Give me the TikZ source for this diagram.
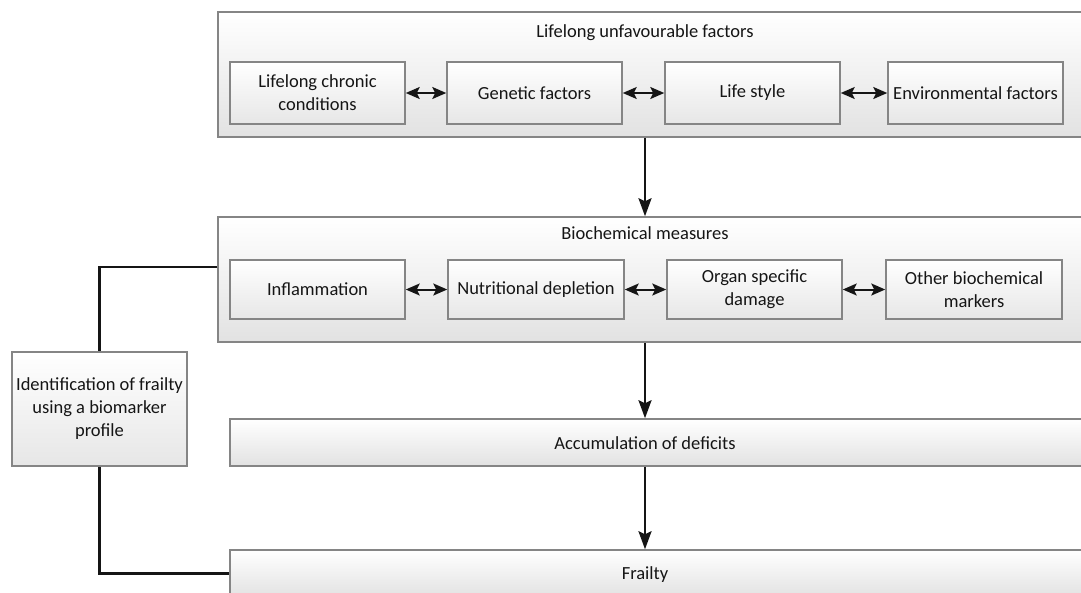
\documentclass[tikz,border=0pt]{standalone}
\usepackage{fontspec}
\setmainfont{Carlito}
\usetikzlibrary{arrows.meta}
\definecolor{edge}{HTML}{858585}
\definecolor{ink}{HTML}{151515}
\definecolor{shadelow}{HTML}{E2E2E2}
\tikzset{
  outerbox/.style={draw=edge, line width=1.5pt, top color=white, bottom color=shadelow, inner sep=0pt},
  innerbox/.style={draw=edge, line width=1.5pt, top color=white, bottom color=shadelow!85, align=center, inner sep=0pt, text=ink},
  lbl/.style={text=ink, align=center, inner sep=0pt},
  conn/.style={draw=ink, line width=2.2pt},
  arr/.style={conn, -{Stealth[length=18pt,width=13pt,inset=3pt]}},
  darr/.style={conn, {Stealth[length=14pt,width=12pt,inset=3pt]}-{Stealth[length=14pt,width=12pt,inset=3pt]}, line width=2pt}
}
\begin{document}
\begin{tikzpicture}[x=1pt,y=1pt, font=\fontsize{18.5}{23}\selectfont]
\useasboundingbox (0,0) rectangle (1081,-592);
\fill[white] (0,0) rectangle (1081,-592);
% outer boxes
\node[outerbox, minimum width=872pt, minimum height=125pt] (top) at (654,-74.5) {};
\node[lbl] (toptitle) at (645,-33) {Lifelong unfavourable factors};
\node[outerbox, minimum width=872pt, minimum height=125pt] (bio) at (654,-279.5) {};
\node[lbl] (biotitle) at (645,-233) {Biochemical measures};
\node[outerbox, minimum width=860pt, minimum height=47pt, text=ink] (acc) at (660,-442.5) {};
\node[lbl] (acctitle) at (645,-443) {Accumulation of deficits};
\node[outerbox, minimum width=860pt, minimum height=47pt] (frail) at (660,-573.5) {};
\node[lbl] (frailtitle) at (645,-575) {Frailty};
% inner boxes top row
\node[innerbox, minimum width=175pt, minimum height=62pt] (lcc) at (317.5,-93) {Lifelong chronic\\conditions};
\node[innerbox, minimum width=175pt, minimum height=62pt] (gen) at (534.5,-93) {Genetic factors};
\node[innerbox, minimum width=175pt, minimum height=62pt] (life) at (752.5,-93) {Life style};
\node[innerbox, minimum width=175pt, minimum height=62pt] (env) at (975.5,-93) {Environmental factors};
% inner boxes bio row
\node[innerbox, minimum width=175pt, minimum height=59pt] (infl) at (317.5,-289.5) {Inflammation};
\node[innerbox, minimum width=176pt, minimum height=59pt] (nut) at (536,-289.5) {Nutritional depletion};
\node[innerbox, minimum width=175pt, minimum height=59pt] (org) at (754.5,-289.5) {Organ specific\\damage};
\node[innerbox, minimum width=176pt, minimum height=59pt] (oth) at (974,-289.5) {Other biochemical\\markers};
% identification box
\node[innerbox, minimum width=175pt, minimum height=114pt] (ident) at (99.5,-409) {Identification of frailty\\using a biomarker\\profile};
% double arrows
\draw[darr] (lcc) -- (gen);
\draw[darr] (gen) -- (life);
\draw[darr] (life) -- (env);
\draw[darr] (infl) -- (nut);
\draw[darr] (nut) -- (org);
\draw[darr] (org) -- (oth);
% vertical arrows
\coordinate (ax) at (645,0);
\draw[arr] (top.south -| ax) -- (bio.north -| ax);
\draw[arr] (bio.south -| ax) -- (acc.north -| ax);
\draw[arr] (acc.south -| ax) -- (frail.north -| ax);
% identification connectors
\coordinate (by) at (0,-267);
\draw[conn] (bio.west |- by) -| (ident.north);
\draw[conn] (ident.south) |- (frail.west);
\end{tikzpicture}
\end{document}
